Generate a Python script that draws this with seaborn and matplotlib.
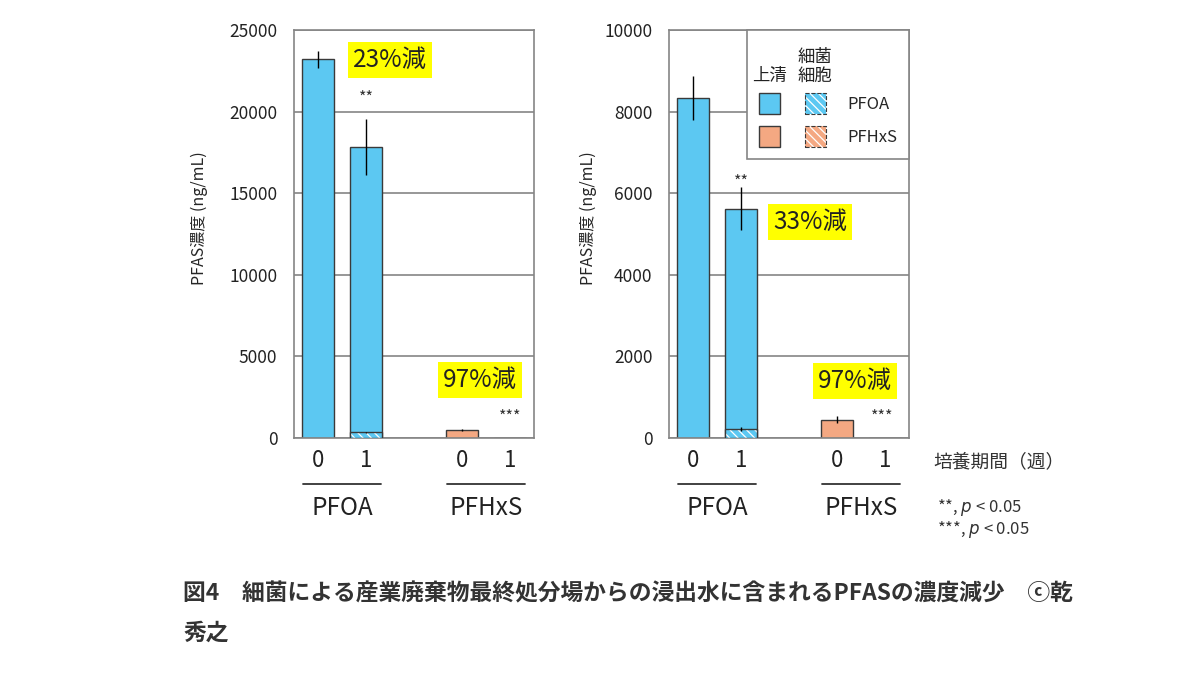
import matplotlib
matplotlib.use('Agg')
import matplotlib.pyplot as plt
import matplotlib.transforms as mtransforms
from matplotlib.patches import Patch
from matplotlib.legend_handler import HandlerTuple
import numpy as np
import pandas as pd
import seaborn as sns

# bar layout: two compounds, weeks 0 and 1
groups = ['PFOA', 'PFOA', 'PFHxS', 'PFHxS']
weeks = ['0', '1', '0', '1']
positions = [0, 1, 3, 4]
group_names = ['PFOA', 'PFHxS']
group_centers = [0.5, 3.5]

# left panel (ng/mL)
left_super = [23200, 17480, 480, 15]
left_cells = [0, 350, 0, 0]
left_err = [500, 1700, 60, 0]
left_cell_err = [0, 40, 0, 0]
left_yticks = [0, 5000, 10000, 15000, 20000, 25000]

# right panel (ng/mL)
right_super = [8340, 5410, 450, 10]
right_cells = [0, 210, 0, 0]
right_err = [540, 520, 90, 0]
right_cell_err = [0, 50, 0, 0]
right_yticks = [0, 2000, 4000, 6000, 8000, 10000]

# reduction labels and significance marks (text, x, y)
left_reduction = [('23%減', 1.5, 23150), ('97%減', 3.38, 3550)]
left_stars = [('**', 1.0, 20800), ('***', 4.0, 1300)]
right_reduction = [('33%減', 2.44, 5300), ('97%減', 3.38, 1400)]
right_stars = [('**', 1.0, 6280), ('***', 3.94, 520)]

caption_1 = '図4　細菌による産業廃棄物最終処分場からの浸出水に含まれるPFASの濃度減少　ⓒ乾'
caption_2 = '秀之'

blue = '#5CC8F2'
orange = '#F4A882'
dark = '#3a3a3a'
gray = '#858585'
palette = {'PFOA': blue, 'PFHxS': orange}
hatch = '\\\\\\\\'

sns.set_theme(style='white')
plt.rcParams['font.family'] = ['Noto Sans CJK JP', 'DejaVu Sans']
plt.rcParams['hatch.linewidth'] = 0.9


def draw_panel(ax, sup, cells, err, cell_err, yticks, reductions, stars, label_x):
    total = [s + c for s, c in zip(sup, cells)]
    df = pd.DataFrame({'pos': positions, 'group': groups, 'total': total, 'cells': cells})

    sns.barplot(data=df, x='pos', y='total', hue='group', palette=palette,
                native_scale=True, width=0.65, errorbar=None, legend=False,
                saturation=1, edgecolor=dark, linewidth=1.0, ax=ax, zorder=2)
    # bacterial cell fraction, hatched at the bottom of each bar
    for i, (p, c) in enumerate(zip(positions, cells)):
        if c > 0:
            ax.bar(p, c, width=0.65, color=palette[groups[i]], edgecolor='white',
                   hatch=hatch, linewidth=0, zorder=3)
            ax.bar(p, c, width=0.65, fill=False, edgecolor=dark, linewidth=1.0, zorder=3)

    ax.errorbar(positions, total, yerr=err, fmt='none', ecolor='black',
                elinewidth=1.0, capsize=0, zorder=4)
    ax.errorbar(positions, cells, yerr=cell_err, fmt='none', ecolor='black',
                elinewidth=1.0, capsize=0, zorder=4)

    ax.set_xlim(-0.5, 4.5)
    ax.set_ylim(0, yticks[-1])
    ax.set_yticks(yticks)
    ax.set_xticks(positions, weeks)
    ax.set_xlabel('')
    ax.set_ylabel('PFAS濃度 (ng/mL)', fontsize=11.5)
    ax.yaxis.set_label_coords(label_x, 0.54)
    ax.yaxis.grid(True, color=gray, linewidth=1.2)
    ax.set_axisbelow(True)
    for sp in ax.spines.values():
        sp.set_visible(True)
        sp.set_color(gray)
        sp.set_linewidth(1.2)
    ax.tick_params(axis='y', length=0, labelsize=12.5, pad=12, colors='#222222')
    ax.tick_params(axis='x', length=0, labelsize=16, pad=8, colors='#222222')

    trans = mtransforms.blended_transform_factory(ax.transData, ax.transAxes)
    for name, c in zip(group_names, group_centers):
        ax.plot([c - 0.82, c + 0.82], [-0.113, -0.113], color='#333333', linewidth=1.3,
                transform=trans, clip_on=False)
        ax.text(c, -0.172, name, fontsize=17.5, ha='center', va='center',
                transform=trans, color='#222222')

    for s, x, y in reductions:
        ax.text(x, y, s, fontsize=17.5, ha='center', va='center', color='#222222', zorder=6,
                bbox=dict(facecolor='#FFFF00', edgecolor='none', boxstyle='square,pad=0.2'))
    for s, x, y in stars:
        ax.text(x, y, s, fontsize=11.5, ha='center', va='center', color='#333333', zorder=6)


fig = plt.figure(figsize=(12, 6.75), dpi=100)
ax1 = fig.add_axes([294 / 1200, 1 - 438 / 675, 240 / 1200, 408 / 675])
ax2 = fig.add_axes([669 / 1200, 1 - 438 / 675, 240 / 1200, 408 / 675])

draw_panel(ax1, left_super, left_cells, left_err, left_cell_err, left_yticks,
           left_reduction, left_stars, -0.358)
draw_panel(ax2, right_super, right_cells, right_err, right_cell_err, right_yticks,
           right_reduction, right_stars, -0.30)

# legend: supernatant vs bacterial cells
handles = [
    Patch(facecolor=blue, edgecolor=dark, linewidth=1.0),
    Patch(facecolor=orange, edgecolor=dark, linewidth=1.0),
    (Patch(facecolor=blue, edgecolor='white', hatch=hatch, linewidth=0),
     Patch(fill=False, edgecolor=dark, linewidth=0.8, linestyle='--')),
    (Patch(facecolor=orange, edgecolor='white', hatch=hatch, linewidth=0),
     Patch(fill=False, edgecolor=dark, linewidth=0.8, linestyle='--')),
]
leg = ax2.legend(handles=handles, labels=['', '', 'PFOA', 'PFHxS'], ncol=2,
                 handler_map={tuple: HandlerTuple(ndivide=1)},
                 loc='upper right', bbox_to_anchor=(1, 1), borderaxespad=0,
                 frameon=True, fancybox=False, edgecolor=gray, framealpha=1,
                 fontsize=12, handlelength=1.26, handleheight=1.55, handletextpad=1.3,
                 columnspacing=0.2, labelspacing=0.75, borderpad=0.7,
                 title=' \n ', title_fontsize=12.5)
leg.get_frame().set_linewidth(1.2)
leg.set_zorder(10)

fig.canvas.draw()
renderer = fig.canvas.get_renderer()
inv = fig.transFigure.inverted()
for h, txt in zip([leg.legend_handles[0], leg.legend_handles[2]], ['上清', '細菌\n細胞']):
    bb = h.get_window_extent(renderer)
    fx, fy = inv.transform((bb.x0 + bb.width / 2, bb.y1))
    fig.text(fx, fy + 8 / 675, txt, fontsize=12.5, ha='center', va='bottom',
             linespacing=1.1, color='#222222', zorder=11)

fig.text(933 / 1200, 1 - 462 / 675, '培養期間（週）', fontsize=13.5, va='center', color='#333333')
fig.text(937 / 1200, 1 - 508 / 675, r'**, $\it{p}$ < 0.05', fontsize=12, va='center', color='#333333')
fig.text(937 / 1200, 1 - 530 / 675, r'***, $\it{p}$ < 0.05', fontsize=12, va='center', color='#333333')

fig.text(183 / 1200, 1 - 594 / 675, caption_1, fontsize=16.4, fontweight='bold',
         va='center', color='#333333')
fig.text(183 / 1200, 1 - 633 / 675, caption_2, fontsize=16.4, fontweight='bold',
         va='center', color='#333333')

fig.savefig('out.png', dpi=100)
